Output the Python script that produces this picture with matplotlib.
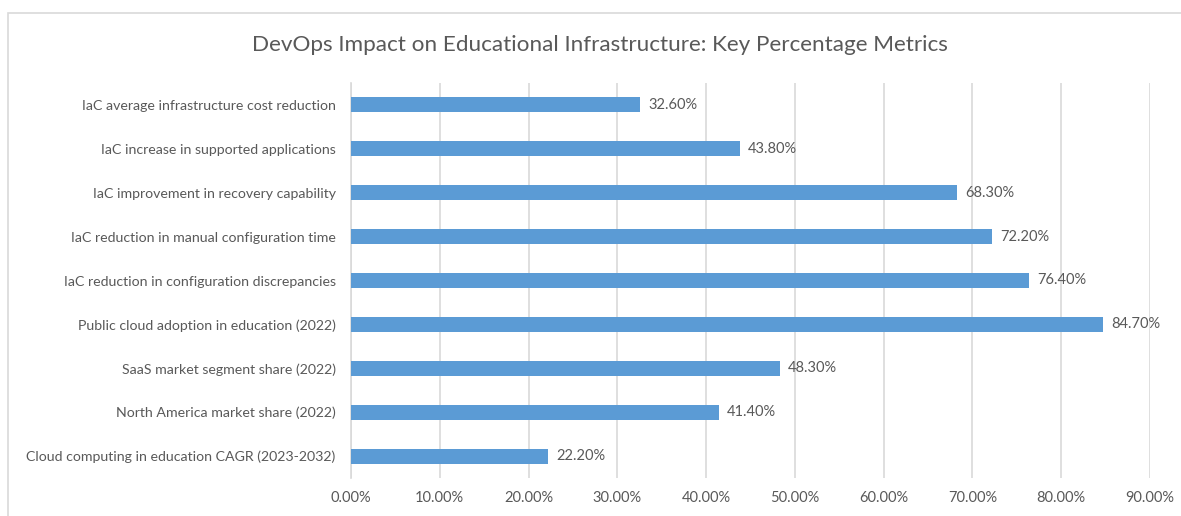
import matplotlib
matplotlib.use('Agg')
from matplotlib import pyplot as plt
from matplotlib.patches import Rectangle
from matplotlib.ticker import FuncFormatter

# bottom to top, as Excel draws them
categories = [
    'Cloud computing in education CAGR (2023-2032)',
    'North America market share (2022)',
    'SaaS market segment share (2022)',
    'Public cloud adoption in education (2022)',
    'IaC reduction in configuration discrepancies',
    'IaC reduction in manual configuration time',
    'IaC improvement in recovery capability',
    'IaC increase in supported applications',
    'IaC average infrastructure cost reduction',
]
values = [22.2, 41.4, 48.3, 84.7, 76.4, 72.2, 68.3, 43.8, 32.6]
ticks = [0, 10, 20, 30, 40, 50, 60, 70, 80, 90]

TEXT = '#595959'
BAR = '#5B9BD5'
GRID = '#D9D9D9'

plt.rcParams['font.family'] = ['Lato', 'DejaVu Sans']

W, H = 1181, 516
fig = plt.figure(figsize=(W / 100, H / 100), dpi=100)
fig.patches.append(Rectangle((8 / W, -0.1), 1.2, 1 - 13 / H + 0.1,
                             transform=fig.transFigure, fill=False,
                             edgecolor=GRID, linewidth=1.2))

ax = fig.add_axes([351 / W, 1 - 478 / H, (1150 - 351) / W, (478 - 83) / H])
ypos = list(range(len(categories)))
ax.barh(ypos, values, height=0.34, color=BAR, zorder=3)
for y, v in zip(ypos, values):
    ax.text(v + 0.9, y, f'{v:.2f}%', va='center', ha='left',
            fontsize=10.5, color=TEXT)

ax.set_xlim(0, 90)
ax.set_ylim(-0.5, len(categories) - 0.5)
ax.set_xticks(ticks)
ax.xaxis.set_major_formatter(FuncFormatter(lambda x, p: f'{x:.2f}%'))
ax.set_yticks(ypos)
ax.set_yticklabels(categories)
ax.tick_params(axis='both', length=0, labelsize=10.5, labelcolor=TEXT)
ax.tick_params(axis='y', pad=11, labelsize=10.2)
ax.tick_params(axis='x', pad=9)
ax.grid(axis='x', color=GRID, linewidth=1.2, zorder=0)
for s in ['top', 'right', 'bottom']:
    ax.spines[s].set_visible(False)
ax.spines['left'].set_color(GRID)
ax.spines['left'].set_linewidth(1.2)

fig.text(600 / W, 1 - 45 / H, 'DevOps Impact on Educational Infrastructure: Key Percentage Metrics',
         ha='center', va='center', fontsize=16.2, color=TEXT)

fig.savefig('out.png', dpi=100)
